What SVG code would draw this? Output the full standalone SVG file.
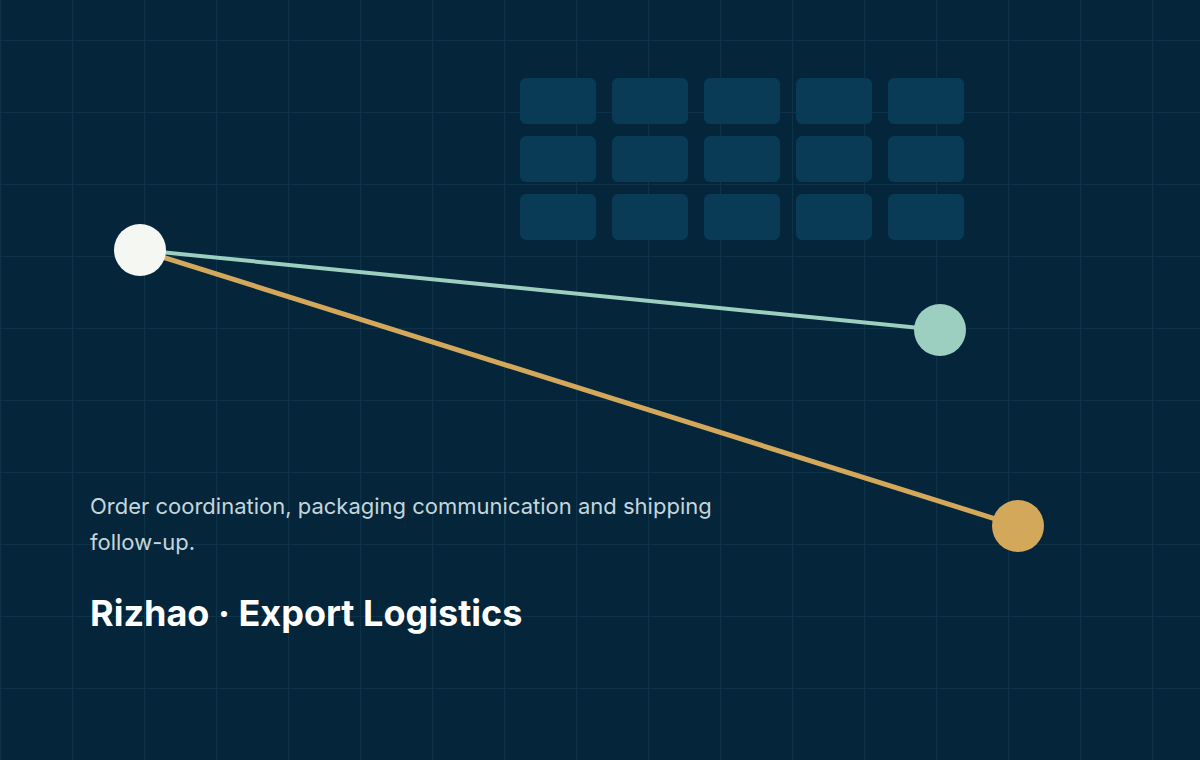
<svg xmlns="http://www.w3.org/2000/svg" width="1200" height="760" viewBox="0 0 1200 760">
<defs>
<pattern id="grid" width="72" height="72" patternUnits="userSpaceOnUse" x="0" y="40">
<path d="M0.5 0V72M0 0.5H72" stroke="#0e3248" stroke-width="1.2" fill="none"/>
</pattern>
</defs>
<style>
.blk{fill:#093b56}
.t{font-family:Inter,"Noto Sans",sans-serif}
</style>
<rect width="1200" height="760" fill="#04253a"/>
<rect width="1200" height="760" fill="url(#grid)"/>
<g id="blocks">
<rect class="blk" x="520" y="78" width="76" height="46" rx="6"/><rect class="blk" x="612" y="78" width="76" height="46" rx="6"/><rect class="blk" x="704" y="78" width="76" height="46" rx="6"/><rect class="blk" x="796" y="78" width="76" height="46" rx="6"/><rect class="blk" x="888" y="78" width="76" height="46" rx="6"/>
<rect class="blk" x="520" y="136" width="76" height="46" rx="6"/><rect class="blk" x="612" y="136" width="76" height="46" rx="6"/><rect class="blk" x="704" y="136" width="76" height="46" rx="6"/><rect class="blk" x="796" y="136" width="76" height="46" rx="6"/><rect class="blk" x="888" y="136" width="76" height="46" rx="6"/>
<rect class="blk" x="520" y="194" width="76" height="46" rx="6"/><rect class="blk" x="612" y="194" width="76" height="46" rx="6"/><rect class="blk" x="704" y="194" width="76" height="46" rx="6"/><rect class="blk" x="796" y="194" width="76" height="46" rx="6"/><rect class="blk" x="888" y="194" width="76" height="46" rx="6"/>
</g>
<g id="connectors">
<line x1="140" y1="250" x2="940" y2="330" stroke="#9ccfbf" stroke-width="4"/>
<line x1="140" y1="250" x2="1018" y2="526" stroke="#d4a85a" stroke-width="5"/>
</g>
<g id="origin"><circle cx="140" cy="250" r="26" fill="#f5f7f3"/></g>
<g id="dest-mint"><circle cx="940" cy="330" r="26" fill="#9ccfbf"/></g>
<g id="dest-gold"><circle cx="1018" cy="526" r="26" fill="#d4a85a"/></g>
<g id="caption">
<text class="t" x="90" y="514" font-size="22" fill="#c5d5dc">Order coordination, packaging communication and shipping</text>
<text class="t" x="90" y="550" font-size="22" fill="#c5d5dc">follow-up.</text>
<text class="t" x="90" y="626" font-size="36" font-weight="700" fill="#ffffff">Rizhao · Export Logistics</text>
</g>
</svg>
